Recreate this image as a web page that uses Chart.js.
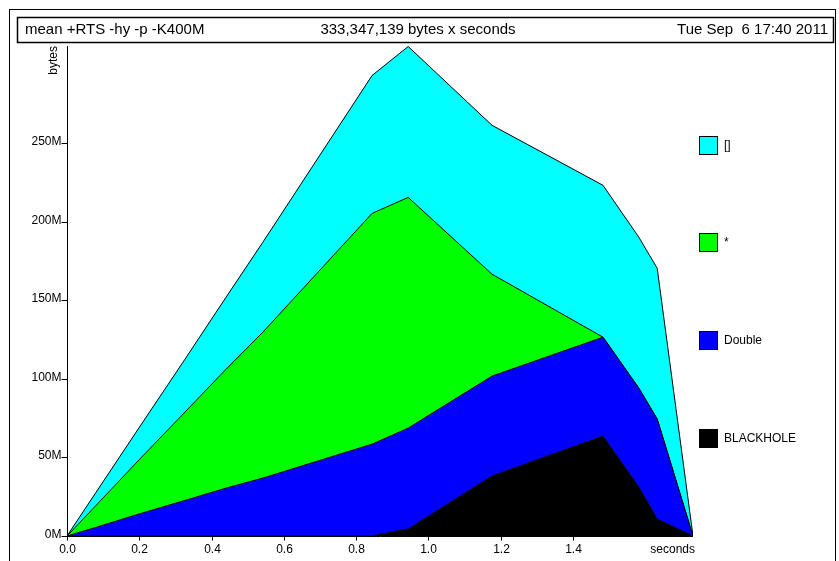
<!DOCTYPE html>
<html>
<head>
<meta charset="utf-8">
<script src="https://cdn.jsdelivr.net/npm/chart.js@4"></script>
<style>
  html, body { margin: 0; padding: 0; background: #fff; overflow: hidden; }
</style>
</head>
<body>
<canvas id="chart" width="839" height="561"></canvas>
<script>
// sample times (seconds) and heap by type (M bytes)
const times     = [0, 0.080, 0.199, 0.321, 0.440, 0.542, 0.844, 0.944, 1.176, 1.483, 1.582, 1.633, 1.732];
const blackhole = [0, 0, 0, 0, 0, 0, 0, 4.5, 38.2, 63.6, 31.2, 10.8, 0];
const doubles   = [0, 5.5, 14.0, 22.3, 30.5, 36.9, 58.5, 64.2, 63.6, 63.0, 63.0, 63.6, 0];
const stars     = [0, 13.9, 34.4, 55.3, 75.7, 92.9, 146.9, 146.9, 64.9, 0, 0, 0, 0];
const lists     = [0, 8.3, 20.4, 33.1, 45.8, 57.3, 87.8, 96.1, 94.8, 96.7, 96.1, 96.1, 0];

const seriesNames  = ["BLACKHOLE", "Double", "*", "[]"];
const seriesColors = ["#000000", "#0000ff", "#00ff00", "#00ffff"];
const xTicks = [0.0, 0.2, 0.4, 0.6, 0.8, 1.0, 1.2, 1.4];
const yTicks = [0, 50, 100, 150, 200, 250];

const headerLeft   = "mean +RTS -hy -p -K400M";
const headerCenter = "333,347,139 bytes x seconds";
const headerRight  = "Tue Sep  6 17:40 2011";

const FONT = '"Liberation Sans", Arial, Helvetica, sans-serif';

function pts(vals) {
  return times.map((t, i) => ({ x: t, y: vals[i] }));
}

const datasets = [blackhole, doubles, stars, lists].map((vals, i) => ({
  label: seriesNames[i],
  data: pts(vals),
  backgroundColor: seriesColors[i],
  borderColor: "#000",
  borderWidth: 1,
  fill: i === 0 ? "origin" : "-1",
  pointRadius: 0,
  tension: 0
}));

// frame, header, axes, legend drawn around the plot
const decor = {
  id: "decor",
  beforeDraw(chart) {
    const ctx = chart.ctx;
    ctx.save();
    ctx.fillStyle = "#fff";
    ctx.fillRect(0, 0, chart.width, chart.height);
    ctx.strokeStyle = "#000";
    ctx.lineWidth = 1;
    ctx.strokeRect(9.5, 9.5, 826, 580);
    ctx.lineWidth = 1.5;
    ctx.strokeRect(17.5, 17.5, 816, 25);
    ctx.fillStyle = "#000";
    ctx.font = "15px " + FONT;
    ctx.textBaseline = "middle";
    ctx.textAlign = "left";
    ctx.fillText(headerLeft, 25, 30);
    ctx.textAlign = "center";
    ctx.fillText(headerCenter, 418, 30);
    ctx.textAlign = "right";
    ctx.fillText(headerRight, 828, 30);
    ctx.restore();
  },
  afterDraw(chart) {
    const ctx = chart.ctx;
    const xs = chart.scales.x, ys = chart.scales.y;
    const x0 = Math.round(xs.getPixelForValue(0)) + 0.5;
    const xEnd = xs.getPixelForValue(times[times.length - 1]);
    const y0 = Math.round(ys.getPixelForValue(0)) + 0.5;
    const yTop = ys.getPixelForValue(ys.max);
    ctx.save();
    ctx.strokeStyle = "#000";
    ctx.lineWidth = 1;
    ctx.beginPath();
    ctx.moveTo(x0, yTop);
    ctx.lineTo(x0, y0);
    ctx.lineTo(xEnd, y0);
    ctx.stroke();

    ctx.fillStyle = "#000";
    ctx.font = "12px " + FONT;
    // x ticks
    ctx.textAlign = "center";
    ctx.textBaseline = "top";
    xTicks.forEach(v => {
      const px = Math.round(xs.getPixelForValue(v)) + 0.5;
      ctx.beginPath();
      ctx.moveTo(px, y0);
      ctx.lineTo(px, y0 + 4);
      ctx.stroke();
      ctx.fillText(v.toFixed(1), px, y0 + 7);
    });
    ctx.textAlign = "right";
    ctx.fillText("seconds", xEnd + 2, y0 + 7);
    // y ticks
    ctx.textBaseline = "alphabetic";
    yTicks.forEach(v => {
      const py = Math.round(ys.getPixelForValue(v)) + 0.5;
      ctx.beginPath();
      ctx.moveTo(x0 - 6, py);
      ctx.lineTo(x0, py);
      ctx.stroke();
      ctx.fillText(v + "M", x0 - 6, py + 1);
    });
    // y title
    ctx.save();
    ctx.translate(x0 - 8, yTop);
    ctx.rotate(-Math.PI / 2);
    ctx.textAlign = "right";
    ctx.textBaseline = "bottom";
    ctx.font = "12px " + FONT;
    ctx.fillText("bytes", 0, 0);
    ctx.restore();

    // legend, top series first
    const legendY = [136, 233, 331, 429];
    for (let k = 0; k < 4; k++) {
      const i = 3 - k;
      const y = legendY[k];
      ctx.fillStyle = seriesColors[i];
      ctx.fillRect(699, y, 19, 19);
      ctx.strokeStyle = "#000";
      ctx.strokeRect(699.5, y + 0.5, 18, 18);
      ctx.fillStyle = "#000";
      ctx.textAlign = "left";
      ctx.textBaseline = "middle";
      ctx.fillText(seriesNames[i], 724, y + 10);
    }
    ctx.restore();
  }
};

new Chart(document.getElementById("chart"), {
  type: "line",
  data: { datasets },
  options: {
    responsive: false,
    animation: false,
    layout: { padding: { left: 67, top: 46, right: 146, bottom: 25 } },
    plugins: { legend: { display: false }, tooltip: { enabled: false } },
    scales: {
      x: { type: "linear", min: 0, max: times[times.length - 1], display: false },
      y: { stacked: true, min: 0, max: 312, display: false }
    },
    elements: { line: { borderJoinStyle: "miter" } }
  },
  plugins: [decor]
});
</script>
</body>
</html>
